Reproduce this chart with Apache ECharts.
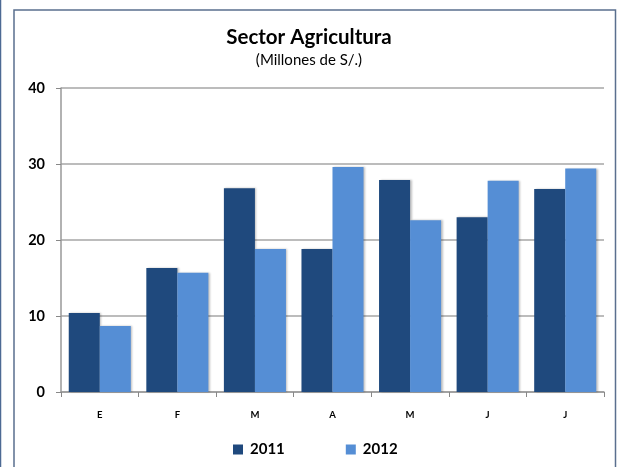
<!DOCTYPE html>
<html><head><meta charset="utf-8">
<script src="https://cdn.jsdelivr.net/npm/echarts@6/dist/echarts.min.js"></script>
<style>html,body{margin:0;padding:0;background:#fff}#c{width:618px;height:467px}</style>
</head><body><div id="c"></div>
<script>
const categories = ['E','F','M','A','M','J','J'];
const series2011 = [10.4, 16.3, 26.8, 18.8, 27.9, 23.0, 26.7];
const series2012 = [8.7, 15.7, 18.8, 29.6, 22.6, 27.8, 29.4];
const yTicks = [0, 10, 20, 30, 40];
const FONT = 'Lato';
const chart = echarts.init(document.getElementById('c'));
const barStyle = c => ({color: c, shadowColor: 'rgba(0,0,0,0.25)', shadowBlur: 2, shadowOffsetX: 1.5, shadowOffsetY: 0});
chart.setOption({
  animation: false,
  graphic: [
    {type: 'line', shape: {x1: 0.5, y1: 0, x2: 0.5, y2: 467}, style: {stroke: '#4d6a94', lineWidth: 1.5}},
    {type: 'polyline', shape: {points: [[14, 467], [14, 10], [615.5, 10], [615.5, 467]]}, style: {stroke: '#5a6f8e', lineWidth: 1.5, fill: null}}
  ],
  title: {
    text: 'Sector Agricultura', subtext: '(Millones de S/.)', left: 'center', top: 22, itemGap: 5,
    textStyle: {fontFamily: FONT, fontWeight: 'bold', fontSize: 20.5, color: '#000'},
    subtextStyle: {fontFamily: FONT, fontSize: 15, color: '#000'}
  },
  legend: {
    top: 437, left: 228, itemWidth: 10, itemHeight: 10, itemGap: 61, icon: 'rect',
    textStyle: {fontFamily: FONT, fontWeight: 'bold', fontSize: 15, color: '#000', padding: [0, 0, 0, 2]},
    data: ['2011', '2012']
  },
  grid: {left: 61, right: 14, top: 88, bottom: 75},
  xAxis: {
    type: 'category', data: categories,
    axisLine: {lineStyle: {color: '#999', width: 1.5}},
    axisTick: {show: true, length: 5, lineStyle: {color: '#888'}},
    axisLabel: {fontFamily: FONT, fontWeight: 'bold', fontSize: 9.5, color: '#000', margin: 18}
  },
  yAxis: {
    type: 'value', min: yTicks[0], max: yTicks[yTicks.length - 1], interval: 10,
    axisLine: {show: true, lineStyle: {color: '#999', width: 1.5}},
    axisTick: {show: true, length: 5, lineStyle: {color: '#888'}},
    splitLine: {lineStyle: {color: '#a6a6a6', width: 1.5}},
    axisLabel: {fontFamily: FONT, fontWeight: 'bold', fontSize: 14.5, color: '#000', margin: 16}
  },
  series: [
    {name: '2011', type: 'bar', data: series2011, barGap: '0%', barCategoryGap: '20%', itemStyle: barStyle('#1f497d')},
    {name: '2012', type: 'bar', data: series2012, itemStyle: barStyle('#558ed5')}
  ]
});
</script></body></html>
